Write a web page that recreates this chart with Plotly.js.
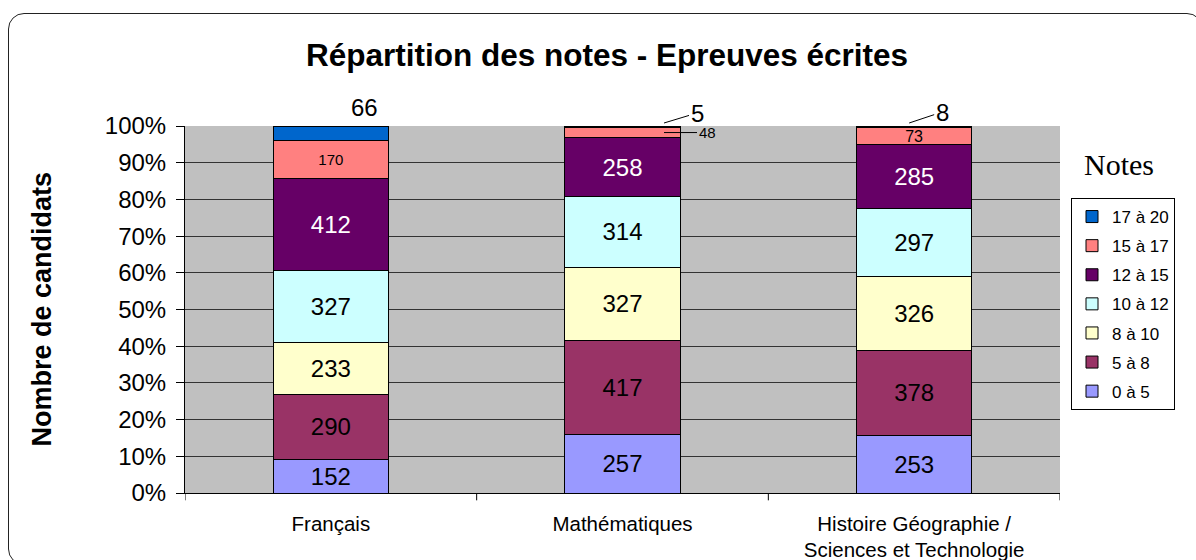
<!DOCTYPE html>
<html>
<head>
<meta charset="utf-8">
<script src="https://cdn.plot.ly/plotly-3.0.1.min.js"></script>
<style>
html,body{margin:0;padding:0;background:#fff;overflow:hidden;width:1196px;height:560px;}
#wrap{position:relative;width:1196px;height:560px;overflow:hidden;}
#chart{position:absolute;left:0;top:0;width:1196px;height:560px;}
#frame{position:absolute;left:8px;top:13px;width:1195px;height:552px;border:1.2px solid #222;border-radius:16px;pointer-events:none;box-sizing:border-box;}
</style>
</head>
<body>
<div id="wrap"><div id="chart"></div><div id="frame"></div></div>
<script>
// ---- data ----
const categories = ['Français', 'Mathématiques', 'Histoire Géographie /<br>Sciences et Technologie'];
const seriesNames = ['0 à 5', '5 à 8', '8 à 10', '10 à 12', '12 à 15', '15 à 17', '17 à 20'];
const notes0to5   = [152, 257, 253];
const notes5to8   = [290, 417, 378];
const notes8to10  = [233, 327, 326];
const notes10to12 = [327, 314, 297];
const notes12to15 = [412, 258, 285];
const notes15to17 = [170, 48, 73];
const notes17to20 = [66, 5, 8];
const seriesColors = ['#9999FF', '#993366', '#FFFFCC', '#CCFFFF', '#660066', '#FF8080', '#0066CC'];
const yTickVals = [0, 10, 20, 30, 40, 50, 60, 70, 80, 90, 100];
const yTickText = ['0%', '10%', '20%', '30%', '40%', '50%', '60%', '70%', '80%', '90%', '100%'];

const series = [notes0to5, notes5to8, notes8to10, notes10to12, notes12to15, notes15to17, notes17to20];
const totals = categories.map((c, i) => series.reduce((s, arr) => s + arr[i], 0));
// cumulative percent bottoms
const cumBottom = series.map((arr, k) => categories.map((c, i) => {
  let s = 0; for (let j = 0; j < k; j++) s += series[j][i]; return 100 * s / totals[i];
}));
const pct = (k, i) => 100 * series[k][i] / totals[i];

// which labels are drawn inside bars
const insideShown = [
  [true, true, true], [true, true, true], [true, true, true], [true, true, true],
  [true, true, true], [true, false, true], [false, false, false]
];
const insideSize = [
  [24, 24, 24], [24, 24, 24], [24, 24, 24], [24, 24, 24], [24, 24, 24], [15, 15, 16], [24, 24, 24]
];
const textColor = ['#000', '#000', '#000', '#000', '#fff', '#000', '#000'];

const traces = series.map((arr, k) => ({
  type: 'bar',
  name: seriesNames[k],
  x: [0, 1, 2],
  y: arr,
  width: 0.395,
  legendgroup: 'g' + k,
  legendrank: 10 + (series.length - k),
  marker: {color: seriesColors[k], line: {color: '#000', width: 1}},
  text: arr.map((v, i) => insideShown[k][i] ? String(v) : ''),
  textposition: 'inside',
  insidetextanchor: 'middle',
  constraintext: 'none',
  textfont: {family: 'Liberation Sans, Arial, sans-serif', size: insideSize[k], color: textColor[k]},
  hoverinfo: 'none'
}));

const annFont = {family: 'Liberation Sans, Arial, sans-serif', size: 24, color: '#000'};
const annotations = [
  // 17 à 20 Français
  {x: 0, y: cumBottom[6][0] + pct(6, 0), xref: 'x', yref: 'y', text: String(notes17to20[0]),
   showarrow: false, xshift: 34, yshift: 3, yanchor: 'bottom', font: annFont},
  // 17 à 20 Maths
  {x: 1, y: cumBottom[6][1] + pct(6, 1), xref: 'x', yref: 'y', text: String(notes17to20[1]),
   showarrow: true, arrowhead: 0, arrowwidth: 1, arrowcolor: '#000', xshift: 41.5, yshift: 3,
   ax: 33, ay: -10, font: annFont},
  // 15 à 17 Maths
  {x: 1, y: cumBottom[5][1] + pct(5, 1) / 2, xref: 'x', yref: 'y', text: String(notes15to17[1]),
   showarrow: true, arrowhead: 0, arrowwidth: 1, arrowcolor: '#000', xshift: 41.5,
   ax: 43, ay: 0, font: {family: 'Liberation Sans, Arial, sans-serif', size: 15, color: '#000'}},
  // 17 à 20 Histoire
  {x: 2, y: cumBottom[6][2] + pct(6, 2), xref: 'x', yref: 'y', text: String(notes17to20[2]),
   showarrow: true, arrowhead: 0, arrowwidth: 1, arrowcolor: '#000', xshift: -5, yshift: 3,
   ax: 33, ay: -11, font: annFont},
  // legend title
  {x: (1119 - 185) / 875, y: (493 - 164) / 367, xref: 'paper', yref: 'paper', text: 'Notes',
   xanchor: 'center', yanchor: 'middle',
   showarrow: false, font: {family: 'Liberation Serif, Times New Roman, serif', size: 30, color: '#000'}},
  // y-axis title
  {x: (41 - 185) / 875, y: 0.5, xref: 'paper', yref: 'paper', text: '<b>Nombre de candidats</b>',
   xanchor: 'center', yanchor: 'middle',
   textangle: -90, showarrow: false,
   font: {family: 'Liberation Sans, Arial, sans-serif', size: 27, color: '#000'}}
];

const layout = {
  width: 1196, height: 560,
  margin: {l: 185, r: 136, t: 126, b: 67},
  paper_bgcolor: '#fff',
  plot_bgcolor: '#C0C0C0',
  barmode: 'stack',
  barnorm: 'percent',
  showlegend: true,
  title: {text: '<b>Répartition des notes - Epreuves écrites</b>', x: 607 / 1196, xanchor: 'center',
          y: 1 - 55 / 560, yanchor: 'middle', yref: 'container',
          font: {family: 'Liberation Sans, Arial, sans-serif', size: 31.5, color: '#000'}},
  xaxis: {
    type: 'linear', range: [-0.5, 2.5], tickvals: [0, 1, 2], ticktext: categories,
    showgrid: false, zeroline: false, showline: true, linecolor: '#000', linewidth: 1,
    ticks: '', ticklabelstandoff: 12,
    tickfont: {family: 'Liberation Sans, Arial, sans-serif', size: 20.5, color: '#000'},
    fixedrange: true
  },
  yaxis: {
    range: [0, 100], tickvals: yTickVals, ticktext: yTickText,
    showgrid: true, gridcolor: '#333', gridwidth: 1, zeroline: false,
    showline: true, linecolor: '#000', linewidth: 1,
    ticks: 'outside', ticklen: 8, tickcolor: '#000', ticklabelstandoff: 5,
    tickfont: {family: 'Liberation Sans, Arial, sans-serif', size: 24, color: '#000'},
    fixedrange: true
  },
  legend: {
    xref: 'container', yref: 'container', x: 1071 / 1196, y: 1 - 198 / 560,
    xanchor: 'left', yanchor: 'top',
    bordercolor: '#000', borderwidth: 1, bgcolor: '#fff',
    traceorder: 'grouped', tracegroupgap: 4, itemwidth: 30,
    font: {family: 'Liberation Sans, Arial, sans-serif', size: 17, color: '#000'}
  },
  annotations: annotations,
  shapes: [
    // x-axis boundary tick marks between categories
    ...[-0.5, 0.5, 1.5, 2.5].map(b => ({type: 'line', xref: 'x', yref: 'paper', x0: b, x1: b, y0: 0, y1: -0.02,
      line: {color: '#000', width: 1}}))
  ]
};

Plotly.newPlot('chart', traces, layout, {staticPlot: true});
</script>
</body>
</html>
